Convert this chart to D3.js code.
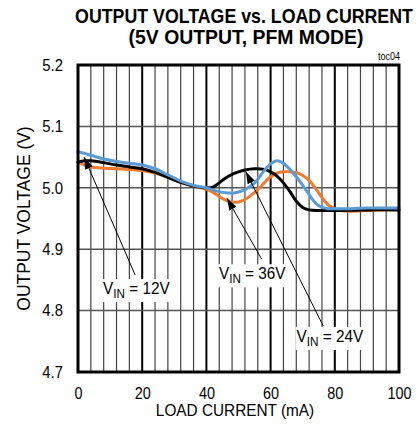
<!DOCTYPE html>
<html>
<head>
<meta charset="utf-8">
<script src="https://cdn.jsdelivr.net/npm/d3@7/dist/d3.min.js"></script>
<style>
  html, body { margin: 0; padding: 0; background: #fff; }
  svg { display: block; }
  text { font-family: "Liberation Sans", Arial, sans-serif; fill: #000; }
</style>
</head>
<body>
<svg id="chart" width="419" height="430"></svg>
<script>
// ---- data ----
const xTicks = [0, 20, 40, 60, 80, 100];
const yTicks = [4.7, 4.8, 4.9, 5.0, 5.1, 5.2];
const yTickLabels = ["4.7", "4.8", "4.9", "5.0", "5.1", "5.2"];

const current12 = [0, 4, 8, 12, 16, 20, 24, 28, 32, 36, 40, 43, 46, 49, 52, 55, 58, 60, 62, 64, 66, 68, 70, 72, 74, 76, 78, 80, 85, 90, 95, 100];
const vin12 = [5.059, 5.053, 5.047, 5.043, 5.040, 5.037, 5.031, 5.021, 5.011, 5.004, 5.000, 4.995, 4.992, 4.992, 4.997, 5.008, 5.028, 5.039, 5.044, 5.040, 5.030, 5.018, 5.004, 4.989, 4.975, 4.968, 4.966, 4.966, 4.966, 4.967, 4.967, 4.967];

const current24 = [0, 2, 4, 8, 12, 16, 20, 24, 28, 32, 36, 40, 42, 44, 46, 48, 50, 52, 55, 58, 60, 62, 64, 66, 68, 70, 72, 75, 80, 90, 100];
const vin24 = [5.042, 5.044, 5.044, 5.041, 5.037, 5.034, 5.031, 5.025, 5.017, 5.009, 5.003, 5.000, 5.001, 5.008, 5.016, 5.022, 5.026, 5.029, 5.031, 5.030, 5.026, 5.019, 5.008, 4.994, 4.978, 4.968, 4.964, 4.963, 4.963, 4.964, 4.964];

const current36 = [0, 2, 4, 8, 12, 16, 20, 24, 28, 32, 36, 40, 42, 44, 46, 48, 50, 52, 54, 56, 58, 60, 62, 64, 66, 68, 70, 72, 74, 76, 78, 80, 82, 85, 90, 95, 100];
const vin36 = [5.042, 5.037, 5.034, 5.032, 5.031, 5.030, 5.028, 5.024, 5.017, 5.009, 5.003, 4.998, 4.993, 4.986, 4.980, 4.977, 4.977, 4.981, 4.988, 4.997, 5.008, 5.018, 5.024, 5.026, 5.026, 5.025, 5.020, 5.012, 4.999, 4.984, 4.972, 4.966, 4.963, 4.962, 4.963, 4.964, 4.965];

const seriesNames = ["36V", "24V", "12V"];
const seriesColors = ["#ef7d31", "#000000", "#5b9bd5"];

const annoTexts = ["12V", "36V", "24V"];
const annoTip = [[1.9, 5.050], [46.4, 4.983], [52.3, 5.026]];
const annoTail = [[17.8, 4.858], [57.2, 4.884], [76.4, 4.775]];
const annoLabel = [[7.8, 4.827], [43.9, 4.851], [68.1, 4.749]];

// ---- layout ----
const svg = d3.select("#chart");
const L = 78, R = 399, T = 65, B = 372;
const x = d3.scaleLinear().domain([0, 100]).range([L, R]);
const y = d3.scaleLinear().domain([4.7, 5.2]).range([B, T]);

function squeeze(sel, f) {
  sel.each(function () {
    const len = this.getComputedTextLength();
    this.setAttribute("textLength", len * f);
    this.setAttribute("lengthAdjust", "spacingAndGlyphs");
  });
}
function fitWidth(cx, cy, str, size, width) {
  const t = svg.append("text").attr("x", 0).attr("y", 0).attr("text-anchor", "middle")
    .attr("font-size", size).attr("font-weight", "bold").text(str);
  const s = width / t.node().getComputedTextLength();
  t.attr("transform", `translate(${cx},${cy}) scale(${s},1)`);
  return t;
}

// grid
const g = svg.append("g");
g.selectAll("line.vg").data(d3.range(4, 100, 4)).enter().append("line")
  .attr("x1", d => x(d)).attr("x2", d => x(d)).attr("y1", T).attr("y2", B)
  .attr("stroke", d => d % 20 === 0 ? "#000" : "#444")
  .attr("stroke-width", d => d % 20 === 0 ? 2 : 1.2);
g.selectAll("line.hg").data(yTicks.slice(1, -1)).enter().append("line")
  .attr("x1", L).attr("x2", R).attr("y1", d => y(d)).attr("y2", d => y(d))
  .attr("stroke", "#555").attr("stroke-width", 1.5);

// curves
const line = d3.line().x(d => x(d[0])).y(d => y(d[1])).curve(d3.curveCatmullRom.alpha(0.5));
const series = [
  d3.zip(current36, vin36),
  d3.zip(current24, vin24),
  d3.zip(current12, vin12)
];
svg.append("g").selectAll("path").data(series).enter().append("path")
  .attr("d", line).attr("fill", "none")
  .attr("stroke", (d, i) => seriesColors[i]).attr("stroke-width", 3)
  .attr("stroke-linejoin", "round").attr("stroke-linecap", "round");

// frame
svg.append("rect").attr("x", L).attr("y", T).attr("width", R - L).attr("height", B - T)
  .attr("fill", "none").attr("stroke", "#000").attr("stroke-width", 3);

// axes labels
const yAxis = d3.axisLeft(y).tickValues(yTicks).tickFormat((d, i) => yTickLabels[i]).tickSize(0).tickPadding(15);
const ya = svg.append("g").attr("transform", `translate(${L},0)`).call(yAxis);
ya.select(".domain").remove();
ya.selectAll("text").attr("font-size", 16.5).attr("font-family", "Liberation Sans, Arial, sans-serif").call(squeeze, 0.9);

const xAxis = d3.axisBottom(x).tickValues(xTicks).tickFormat(d3.format("d")).tickSize(0).tickPadding(16);
const xa = svg.append("g").attr("transform", `translate(0,${B})`).call(xAxis);
xa.select(".domain").remove();
xa.selectAll("text").attr("font-size", 16).attr("font-family", "Liberation Sans, Arial, sans-serif").call(squeeze, 0.9);

svg.append("text").attr("x", 235).attr("y", 416).attr("text-anchor", "middle")
  .attr("font-size", 16.5).text("LOAD CURRENT (mA)").call(squeeze, 0.93);
svg.append("text").attr("transform", `translate(30,${(T + B) / 2}) rotate(-90)`).attr("text-anchor", "middle")
  .attr("font-size", 18).text("OUTPUT VOLTAGE (V)").call(squeeze, 0.97);

// titles
fitWidth(244, 22.5, "OUTPUT VOLTAGE vs.  LOAD CURRENT", 20, 338);
fitWidth(246, 43.5, "(5V OUTPUT, PFM MODE)", 20, 235);
svg.append("text").attr("x", 400).attr("y", 60).attr("text-anchor", "end")
  .attr("font-size", 10).text("toc04").call(squeeze, 0.9);

// annotations
const defs = svg.append("defs");
defs.append("marker").attr("id", "ah").attr("markerUnits", "userSpaceOnUse")
  .attr("viewBox", "0 0 12 8").attr("refX", 12).attr("refY", 4)
  .attr("markerWidth", 12).attr("markerHeight", 8).attr("orient", "auto")
  .append("path").attr("d", "M0,0 L12,4 L0,8 Z").attr("fill", "#000");

const ag = svg.append("g");
annoTexts.forEach((t, i) => {
  ag.append("line")
    .attr("x1", x(annoTail[i][0])).attr("y1", y(annoTail[i][1]))
    .attr("x2", x(annoTip[i][0])).attr("y2", y(annoTip[i][1]))
    .attr("stroke", "#000").attr("stroke-width", 1).attr("marker-end", "url(#ah)");
  const bg = ag.append("rect").attr("fill", "#fff");
  const tx = ag.append("text").attr("x", x(annoLabel[i][0])).attr("y", y(annoLabel[i][1]))
    .attr("font-size", 17);
  tx.append("tspan").text("V");
  tx.append("tspan").attr("font-size", 13).attr("dy", 4).text("IN");
  tx.append("tspan").attr("dy", -4).text(" = " + t);
  squeeze(tx, 0.9);
  const bb = tx.node().getBBox();
  bg.attr("x", bb.x - 1).attr("y", bb.y).attr("width", bb.width + 2).attr("height", bb.height + 1);
});
</script>
</body>
</html>
